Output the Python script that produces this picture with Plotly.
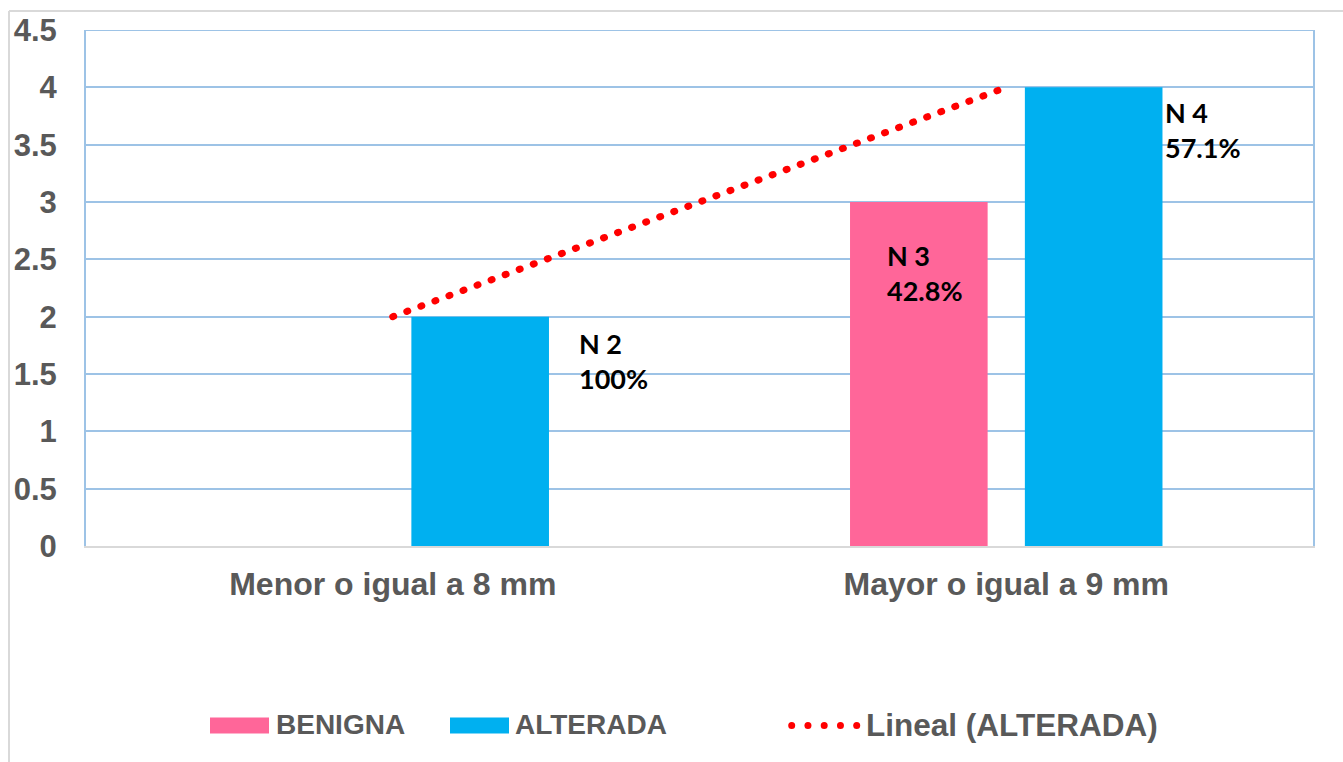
import numpy as np
import plotly.graph_objects as go

# ---- data ----
categories = ["Menor o igual a 8 mm", "Mayor o igual a 9 mm"]
benigna = [None, 3]
alterada = [2, 4]
benigna_pct = [None, "42.8%"]
alterada_pct = ["100%", "57.1%"]
y_ticks = [0, 0.5, 1, 1.5, 2, 2.5, 3, 3.5, 4, 4.5]
y_tick_text = ["0", "0.5", "1", "1.5", "2", "2.5", "3", "3.5", "4", "4.5"]

PINK = "#FF6699"
BLUE = "#00B0F0"
RED = "#FF0000"
GRID = "#9DC3E6"
GREY_TXT = "#595959"
SANS = "Liberation Sans, Arial, sans-serif"
X_FONT = dict(family=SANS, size=32, color=GREY_TXT, weight="bold")
Y_FONT = dict(family=SANS, size=31, color=GREY_TXT, weight="bold")
LABEL_FONT = dict(family="Lato, Calibri, sans-serif", size=27, color="#000000", weight="bold")

W, H = 1343, 762
ML, MR, MT, MB = 86, 30, 30, 216
PW, PH = W - ML - MR, H - MT - MB


def px_x(px):
    return (px - ML) / PW


def px_y(py):
    return (H - MB - py) / PH


# linear trend over the ALTERADA series
idx = np.arange(len(categories))
coef = np.polyfit(idx, alterada, 1)
trend = np.polyval(coef, idx)

fig = go.Figure()
fig.add_trace(go.Bar(name="BENIGNA", x=categories, y=benigna,
                     marker=dict(color=PINK, line=dict(width=0)), showlegend=False))
fig.add_trace(go.Bar(name="ALTERADA", x=categories, y=alterada,
                     marker=dict(color=BLUE, line=dict(width=0)), showlegend=False))
fig.add_trace(go.Scatter(name="Lineal (ALTERADA)", x=categories, y=trend, mode="lines",
                         line=dict(color=RED, width=7, dash="1px,14px"), showlegend=False))

# data labels
annotations = []
for cat, val, pct in zip(categories, alterada, alterada_pct):
    if val is None:
        continue
    dx, dy = (184, -44) if cat == categories[0] else (157, -43)
    annotations.append(dict(x=cat, y=val, xref="x", yref="y", text=f"N {val}<br>{pct}",
                            showarrow=False, xanchor="left", yanchor="middle", align="left",
                            xshift=dx, yshift=dy, font=LABEL_FONT))
for cat, val, pct in zip(categories, benigna, benigna_pct):
    if val is None:
        continue
    annotations.append(dict(x=cat, y=val, xref="x", yref="y", text=f"N {val}<br>{pct}",
                            showarrow=False, xanchor="left", yanchor="middle", align="left",
                            xshift=-121, yshift=-71, font=LABEL_FONT))

# legend drawn below the plot
shapes = []
legend_y = 725.5
for x0, color in [(210, PINK), (450, BLUE)]:
    shapes.append(dict(type="rect", xref="paper", yref="paper",
                       x0=px_x(x0), x1=px_x(x0 + 59), y0=px_y(legend_y - 8), y1=px_y(legend_y + 8),
                       fillcolor=color, line=dict(width=0)))
for i in range(5):
    cx = 791.7 + i * 16.25
    shapes.append(dict(type="circle", xref="paper", yref="paper",
                       x0=px_x(cx - 3.5), x1=px_x(cx + 3.5), y0=px_y(legend_y - 3.5), y1=px_y(legend_y + 3.5),
                       fillcolor=RED, line=dict(width=0)))
for x0, txt, size in [(274, "BENIGNA", 28), (513, "ALTERADA", 28), (864, "Lineal (ALTERADA)", 31.5)]:
    annotations.append(dict(x=px_x(x0), y=px_y(legend_y - 1), xref="paper", yref="paper", text=txt,
                            showarrow=False, xanchor="left", yanchor="middle",
                            font=dict(family=SANS, size=size, color=GREY_TXT, weight="bold")))

# top border of the plot area
shapes.append(dict(type="line", xref="paper", yref="y", x0=0, x1=1, y0=4.5, y1=4.5,
                   line=dict(color=GRID, width=2)))
# outer chart frame (top and left edges)
shapes.append(dict(type="line", xref="paper", yref="paper", x0=px_x(9), x1=px_x(W + 5),
                   y0=px_y(11), y1=px_y(11), line=dict(color="#D9D9D9", width=2)))
shapes.append(dict(type="line", xref="paper", yref="paper", x0=px_x(9), x1=px_x(9),
                   y0=px_y(11), y1=px_y(H + 5), line=dict(color="#D9D9D9", width=2)))

fig.update_layout(
    width=W, height=H,
    margin=dict(l=ML, r=MR, t=MT, b=MB, pad=0),
    paper_bgcolor="white", plot_bgcolor="white",
    barmode="group", bargap=0.43, bargroupgap=0.213,
    annotations=annotations, shapes=shapes,
    showlegend=False,
)
fig.update_xaxes(type="category", showgrid=False, showline=True, linecolor="#D9D9D9", linewidth=2,
                 ticks="", tickfont=X_FONT, ticklabelstandoff=9, automargin=False)
fig.update_yaxes(range=[0, 4.5], tickvals=y_ticks, ticktext=y_tick_text, showgrid=True,
                 gridcolor=GRID, gridwidth=2, zeroline=False, showline=True, mirror=True,
                 linecolor=GRID, linewidth=2, ticks="", tickfont=Y_FONT,
                 ticklabelstandoff=21, automargin=False)

fig.write_html(
    "out.html",
    post_script="document.querySelectorAll('path.js-line').forEach(function(p){p.style.strokeLinecap='round';});",
)
